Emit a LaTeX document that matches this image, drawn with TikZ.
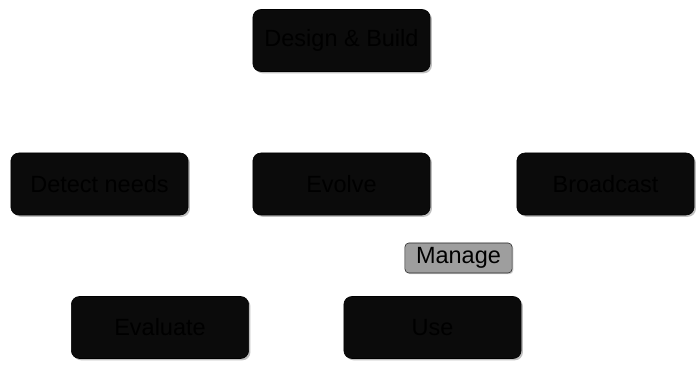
\documentclass[tikz,border=0pt]{standalone}
\usepackage{fontspec}
\setmainfont{Liberation Sans}
\usetikzlibrary{shadows}

\definecolor{boxfill}{RGB}{11,11,11}
\definecolor{managefill}{RGB}{158,158,158}

\begin{document}
\begin{tikzpicture}[x=0.025cm, y=-0.025cm,
    every node/.style={font=\fontsize{16.7}{20}\selectfont},
    stage/.style={draw=black, fill=boxfill, text=black, rounded corners=0.2cm,
        minimum width=4.43cm, minimum height=1.55cm, inner sep=0pt,
        drop shadow={shadow xshift=0.045cm, shadow yshift=-0.045cm, opacity=0.5}},
    tag/.style={draw=black!85, fill=managefill, text=black, rounded corners=0.1cm,
        minimum width=2.68cm, minimum height=0.75cm, inner sep=0pt,
        drop shadow={shadow xshift=0.03cm, shadow yshift=-0.03cm, opacity=0.4}}]

% Canvas
\useasboundingbox (0, 0) rectangle (700, 372);

% Rows
\def\rowA{40.5}
\def\rowB{184}
\def\rowC{327.5}

% Top
\node[stage] (design) at (341.5, \rowA) {Design \& Build};

% Middle row
\node[stage] (detect) at (99.5, \rowB) {Detect needs};
\node[stage] (evolve) at (341.5, \rowB) {Evolve};
\node[stage] (broadcast) at (605.5, \rowB) {Broadcast};

% Label
\node[tag] (manage) at (458.5, 258) {Manage};

% Bottom row
\node[stage] (evaluate) at (160, \rowC) {Evaluate};
\node[stage] (use) at (432.5, \rowC) {Use};

\end{tikzpicture}
\end{document}
